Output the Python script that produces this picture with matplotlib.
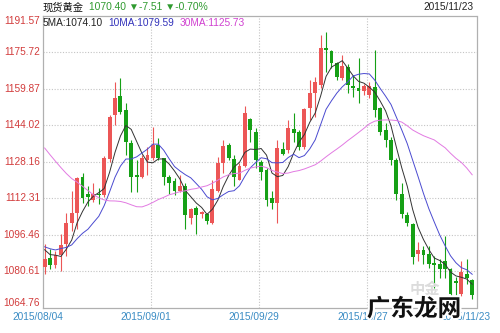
import matplotlib
matplotlib.use('Agg')
import matplotlib.pyplot as plt
import matplotlib.transforms as mtrans
import matplotlib.patheffects as pe
import numpy as np
import pandas as pd

plt.rcParams['font.family'] = ['Liberation Sans', 'Noto Sans CJK SC', 'DejaVu Sans']

# daily candles 2015/08/04 .. 2015/11/23
opens = [1082.6, 1086.5, 1083.5, 1087.8, 1092.6, 1101.8, 1106.0, 1121.8, 1114.4, 1111.8,
         1114.4, 1113.6, 1129.3, 1148.4, 1156.9, 1150.6, 1136.3, 1122.3, 1121.4, 1128.8,
         1129.7, 1135.3, 1129.7, 1121.4, 1120.0, 1115.7, 1117.9, 1104.0, 1108.3, 1105.7,
         1105.7, 1101.8, 1115.7, 1127.5, 1135.3, 1129.3, 1120.5, 1126.2, 1146.7, 1141.0,
         1127.9, 1124.5, 1112.3, 1110.1, 1133.6, 1133.2, 1142.3, 1141.0, 1134.5, 1151.5,
         1158.0, 1161.5, 1177.6, 1176.3, 1171.1, 1164.6, 1169.4, 1161.1, 1160.2, 1158.9,
         1157.2, 1160.6, 1151.5, 1141.9, 1137.5, 1128.8, 1114.4, 1104.9, 1101.4, 1088.3,
         1090.0, 1088.3, 1084.4, 1083.9, 1085.2, 1081.7, 1076.5, 1070.9, 1079.6, 1077.0]
highs = [1092.6, 1090.5, 1089.6, 1097.0, 1106.0, 1115.7, 1121.8, 1123.2, 1117.9, 1119.2,
         1117.0, 1130.6, 1148.4, 1162.8, 1164.6, 1153.7, 1137.5, 1128.8, 1131.0, 1134.5,
         1143.2, 1138.4, 1130.0, 1122.3, 1121.0, 1122.3, 1118.8, 1108.3, 1109.2, 1107.0,
         1106.0, 1120.1, 1130.1, 1137.5, 1136.3, 1131.0, 1127.5, 1152.3, 1147.1, 1142.8,
         1128.8, 1125.4, 1115.7, 1137.5, 1136.7, 1146.3, 1149.3, 1141.9, 1151.5, 1163.7,
         1165.0, 1183.3, 1184.6, 1176.8, 1171.5, 1174.6, 1170.7, 1165.9, 1173.3, 1162.0,
         1162.8, 1176.8, 1151.9, 1145.0, 1138.8, 1129.7, 1119.2, 1106.2, 1101.8, 1093.5,
         1091.7, 1091.7, 1087.4, 1086.1, 1096.1, 1082.2, 1078.0, 1085.2, 1086.1, 1077.4]
lows = [1079.6, 1081.7, 1082.2, 1080.9, 1087.4, 1098.3, 1099.2, 1110.5, 1108.8, 1110.9,
        1110.0, 1112.7, 1128.0, 1144.1, 1149.0, 1131.0, 1114.9, 1114.9, 1121.0, 1122.3,
        1128.8, 1128.8, 1118.0, 1114.4, 1113.6, 1114.9, 1099.2, 1101.4, 1097.0, 1103.6,
        1101.4, 1101.4, 1114.9, 1123.2, 1128.8, 1117.9, 1120.1, 1125.8, 1136.7, 1125.4,
        1120.1, 1109.2, 1107.9, 1101.8, 1131.0, 1131.9, 1136.7, 1133.2, 1133.8, 1146.3,
        1147.6, 1160.2, 1167.2, 1168.9, 1163.7, 1163.7, 1158.0, 1156.3, 1153.7, 1157.2,
        1155.9, 1147.6, 1139.8, 1134.5, 1126.6, 1111.4, 1104.0, 1100.5, 1084.0, 1085.2,
        1083.9, 1082.2, 1073.4, 1077.8, 1077.8, 1069.8, 1070.5, 1070.0, 1075.2, 1068.7]
closes = [1086.1, 1083.5, 1087.8, 1092.2, 1101.8, 1106.0, 1121.0, 1112.3, 1112.7, 1114.4,
          1113.6, 1130.0, 1147.6, 1155.8, 1149.7, 1136.7, 1121.4, 1121.4, 1129.7, 1131.0,
          1135.3, 1129.7, 1121.4, 1118.8, 1115.7, 1117.9, 1104.9, 1107.9, 1105.3, 1106.0,
          1102.7, 1116.2, 1127.5, 1134.9, 1129.7, 1121.4, 1126.2, 1149.3, 1141.9, 1128.8,
          1123.6, 1111.8, 1110.5, 1134.0, 1131.4, 1142.8, 1140.6, 1134.5, 1151.0, 1158.0,
          1162.8, 1177.6, 1176.8, 1171.1, 1165.0, 1169.8, 1161.5, 1160.2, 1158.9, 1161.1,
          1161.1, 1150.6, 1141.0, 1137.5, 1128.8, 1114.4, 1105.7, 1101.8, 1087.0, 1090.0,
          1087.8, 1083.9, 1083.5, 1081.7, 1081.7, 1071.0, 1075.5, 1080.5, 1077.91, 1070.40]
# closes before the window, only needed to start the moving averages
prev_closes = [1172, 1172, 1174, 1179, 1172, 1168, 1166, 1168, 1168, 1154,
               1158, 1160, 1157, 1156, 1154, 1148, 1146, 1132, 1106, 1102,
               1092, 1093, 1086, 1097, 1095, 1094, 1089, 1095, 1086]

date_idx = [0, 20, 40, 60, 79]
date_labels = ['2015/08/04', '2015/09/01', '2015/09/29', '2015/10/27', '2015/11/23']
price_ticks = [1191.57, 1175.72, 1159.87, 1144.02, 1128.16, 1112.31, 1096.46, 1080.61, 1064.76]

ma_periods = [5, 10, 30]
ma_last = [1074.10, 1079.59, 1125.73]
ma_colors = ['#333333', '#4a4ad0', '#e27ae2']
ma_text_colors = ['#222222', '#3333bb', '#d040d0']

name = '现货黄金'
last_price = 1070.40
change = -7.51
change_pct = -0.70

UP = '#ec5656'
DOWN = '#16a016'

W, H = 500, 333
fig = plt.figure(figsize=(W / 100, H / 100), dpi=100)
fig.patch.set_facecolor('white')
left, right, top, bottom = 42.5, 476.5, 15.7, 308.0
ax = fig.add_axes([left / W, 1 - bottom / H, (right - left) / W, (bottom - top) / H])

o = np.array(opens)
h = np.array(highs)
l = np.array(lows)
c = np.array(closes)
x = np.arange(len(c))
up = c >= o
colors = np.where(up, UP, DOWN)

ax.vlines(x, l, h, colors=colors, linewidth=0.8, zorder=2)
body_lo = np.minimum(o, c)
body_h = np.maximum(np.abs(c - o), 0.5)
ax.bar(x, body_h, bottom=body_lo, width=0.72, color=colors, linewidth=0, zorder=3)

allc = pd.Series(prev_closes + closes)
n0 = len(prev_closes)
for p, col in zip(ma_periods, ma_colors):
    ma = allc.rolling(p).mean().to_numpy()[n0:]
    ax.plot(x, ma, color=col, linewidth=0.7, zorder=4)

ax.set_xlim(-0.4, 79.8)
ax.set_ylim(price_ticks[-1], price_ticks[0])
ax.set_xticks([])
ax.set_yticks([])
for s in ax.spines.values():
    s.set_color('#b0b0b0')
    s.set_linewidth(0.9)

for t in price_ticks[1:-1]:
    ax.axhline(t, color='#c4c4c4', linewidth=0.8, linestyle=(0, (1, 1.5)), zorder=1)
for d in date_idx[1:-1]:
    ax.axvline(d - 0.4, color='#c4c4c4', linewidth=0.8, linestyle=(0, (1, 1.5)), zorder=1)

# price labels on the left
ytrans = mtrans.blended_transform_factory(ax.transAxes, ax.transData)
for i, t in enumerate(price_ticks):
    va = 'top' if i == 0 else ('bottom' if i == len(price_ticks) - 1 else 'center')
    ax.text(-0.006, t, f'{t:.2f}', transform=ytrans, ha='right', va=va,
            fontsize=7.3, color='#d23c3c')

# date labels below
xtrans = mtrans.blended_transform_factory(ax.transData, ax.transAxes)
xtrans = mtrans.offset_copy(xtrans, fig=fig, x=-7, y=0, units='dots')
for d, lab in zip(date_idx, date_labels):
    ax.text(d, -0.031, lab, transform=xtrans, ha='center', va='center',
            fontsize=7.3, color='#3a8cc4')

def px(xp, yp):
    return xp / W, 1 - yp / H

fig.text(*px(43, 7), name, ha='left', va='center', fontsize=7.4, color='#111111')
fig.text(*px(89, 7), f'{last_price:.2f} \u25bc{change:.2f} \u25bc{change_pct:.2f}%',
         ha='left', va='center', fontsize=7.4, color='#2f9a2f')
fig.text(*px(474, 7), date_labels[-1], ha='right', va='center', fontsize=7.3, color='#222222')

lx = [43, 108, 180]
for xi, p, v, col in zip(lx, ma_periods, ma_last, ma_text_colors):
    fig.text(*px(xi, 22.5), f'{p}MA:{v:.2f}', ha='left', va='center', fontsize=7.3, color=col)

# watermarks
fig.text(*px(425, 289), '中金', ha='center', va='center', fontsize=11,
         color='#dcdcdc', fontweight='bold', family=['Noto Sans CJK SC'])
fig.text(*px(414, 309), '广东龙网', ha='center', va='center', fontsize=17,
         color='#111111', fontweight='bold', family=['Noto Sans CJK SC'],
         path_effects=[pe.withStroke(linewidth=3, foreground='white')])

fig.savefig('out.png', dpi=100)
